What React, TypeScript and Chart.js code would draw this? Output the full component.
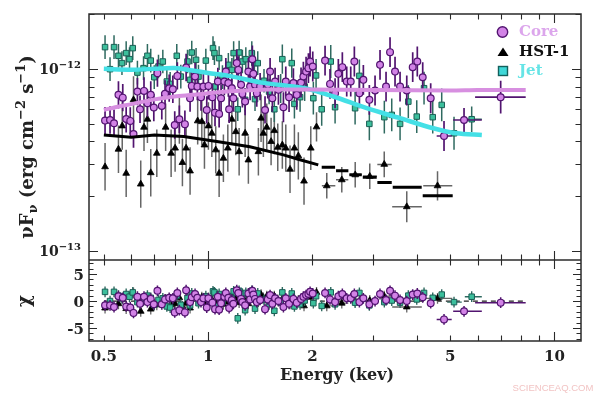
import React, { useEffect, useRef } from "react";
import { Chart, registerables } from "chart.js";

Chart.register(...registerables);

const W = 613;
const H = 397;
const FLUX_UNIT = 1e-13;

// ---------------- Core ----------------
const coreEnergy = [
  0.504, 0.521, 0.535, 0.551, 0.567, 0.58, 0.596, 0.609, 0.625, 0.636,
  0.653, 0.668, 0.683, 0.697, 0.714, 0.735, 0.751, 0.772, 0.791, 0.801,
  0.815, 0.826, 0.857, 0.864, 0.887, 0.897, 0.917, 0.931, 0.954, 0.969,
  0.991, 1.002, 1.029, 1.047, 1.067, 1.076, 1.09, 1.114, 1.125, 1.144,
  1.15, 1.171, 1.183, 1.21, 1.223, 1.245, 1.256, 1.279, 1.307, 1.322,
  1.342, 1.351, 1.366, 1.382, 1.413, 1.46, 1.487, 1.51, 1.533, 1.561,
  1.596, 1.65, 1.676, 1.713, 1.763, 1.803, 1.855, 1.884, 1.918, 1.948,
  1.97, 2.005, 2.176, 2.249, 2.326, 2.377, 2.441, 2.513, 2.581, 2.644,
  2.734, 2.807, 2.921, 3.034, 3.136, 3.264, 3.352, 3.465, 3.583, 3.746,
  3.897, 4.018, 4.165, 4.392, 4.799, 5.482, 6.994,
];
const coreFlux = [
  5.2, 5.24, 5.03, 7.2, 6.95, 5.31, 5.18, 4.39, 7.5, 6.0,
  7.57, 6.48, 7.2, 6.13, 9.47, 6.26, 7.29, 7.83, 7.73, 4.92,
  9.15, 5.29, 4.97, 10.17, 6.9, 8.06, 9.07, 7.99, 6.99, 7.99,
  5.95, 8.06, 6.99, 5.75, 8.52, 5.66, 6.9, 8.52, 9.66, 8.35,
  6.0, 7.83, 6.9, 10.75, 9.87, 8.17, 7.29, 6.61, 9.66, 7.99,
  11.3, 9.39, 8.17, 7.35, 7.99, 5.95, 8.17, 9.66, 6.9, 8.52,
  7.67, 6.16, 8.52, 6.99, 8.35, 7.2, 8.41, 9.07, 9.66, 10.09,
  10.97, 10.3, 11.1, 8.27, 7.35, 9.39, 10.22, 8.52, 8.52, 10.97,
  7.35, 8.7, 6.76, 7.6, 10.52, 7.99, 12.35, 9.66, 7.99, 7.6,
  10.22, 10.97, 9.0, 6.9, 4.28, 5.24, 6.99,
];
const coreErrDex = [
  0.075, 0.075, 0.075, 0.075, 0.075, 0.075, 0.075, 0.075, 0.075, 0.075,
  0.075, 0.075, 0.075, 0.075, 0.075, 0.075, 0.075, 0.075, 0.075, 0.075,
  0.075, 0.075, 0.075, 0.075, 0.075, 0.075, 0.075, 0.075, 0.075, 0.075,
  0.075, 0.075, 0.075, 0.075, 0.075, 0.075, 0.075, 0.075, 0.075, 0.075,
  0.075, 0.075, 0.075, 0.075, 0.075, 0.075, 0.075, 0.075, 0.075, 0.075,
  0.075, 0.075, 0.075, 0.075, 0.075, 0.075, 0.075, 0.075, 0.075, 0.075,
  0.082, 0.082, 0.082, 0.082, 0.082, 0.082, 0.082, 0.082, 0.082, 0.082,
  0.082, 0.082, 0.082, 0.082, 0.082, 0.082, 0.082, 0.082, 0.082, 0.082,
  0.082, 0.082, 0.082, 0.082, 0.082, 0.082, 0.082, 0.082, 0.082, 0.082,
  0.082, 0.082, 0.082, 0.082, 0.082, 0.066, 0.09,
];
const coreChi = [
  -0.8, -0.8, -1.1, 0.9, 0.6, -1.0, -1.2, -2.2, 0.8, -0.5,
  0.8, -0.2, 0.4, -0.6, 1.9, -0.6, 0.3, 0.6, 0.5, -2.1,
  1.5, -1.7, -2.1, 2.0, -0.2, 0.7, 1.3, 0.6, -0.2, 0.5,
  -1.2, 0.5, -0.3, -1.5, 0.8, -1.6, -0.4, 0.8, 1.5, 0.6,
  -1.3, 0.2, -0.5, 2.0, 1.5, 0.4, -0.2, -0.8, 1.4, 0.3,
  1.9, 1.2, 0.4, -0.2, 0.2, -1.5, 0.3, 1.1, -0.5, 0.5,
  0.0, -1.1, 0.5, -0.5, 0.4, -0.3, 0.4, 0.8, 1.1, 1.3,
  1.7, 1.4, 1.5, 0.3, -0.2, 0.9, 1.3, 0.5, 0.5, 1.3,
  -0.2, 0.5, -0.6, 0.0, 1.3, 0.2, 1.9, 1.0, 0.2, 0.0,
  1.2, 1.4, 0.7, -0.4, -3.4, -1.9, -0.3,
];
const coreBins = [
  { e: 4.799, lo: 4.57, hi: 5.05 },
  { e: 5.482, lo: 5.1, hi: 6.17 },
  { e: 6.994, lo: 5.9, hi: 8.26 },
];
const coreModelEnergy = [0.5, 0.55, 0.6, 0.7, 0.8, 0.9, 1.0, 1.2, 1.5, 2.0, 3.0, 5.0, 6.0, 8.26];
const coreModelFlux = [5.95, 6.2, 6.4, 6.8, 7.05, 7.2, 7.35, 7.55, 7.7, 7.7, 7.65, 7.6, 7.65, 7.65];

// ---------------- Jet ----------------
const jetEnergy = [
  0.504, 0.521, 0.535, 0.551, 0.564, 0.58, 0.593, 0.606, 0.625, 0.651,
  0.668, 0.683, 0.699, 0.719, 0.74, 0.76, 0.777, 0.812, 0.834, 0.872,
  0.887, 0.897, 0.923, 0.938, 0.985, 1.033, 1.043, 1.05, 1.076, 1.1,
  1.144, 1.171, 1.185, 1.218, 1.229, 1.256, 1.279, 1.285, 1.337, 1.36,
  1.366, 1.391, 1.45, 1.5, 1.553, 1.62, 1.638, 1.744, 1.775, 1.843,
  1.9, 2.013, 2.05, 2.128, 2.26, 2.326, 2.657, 2.734, 2.921, 3.227,
  3.39, 3.583, 3.785, 4.003, 4.202, 4.452, 4.726, 5.129, 5.768,
];
const jetFlux = [
  13.16, 9.96, 13.16, 11.79, 10.75, 12.2, 11.3, 12.99, 9.54, 10.09,
  11.79, 11.1, 9.0, 10.3, 10.97, 8.52, 8.27, 11.79, 9.07, 10.97,
  8.7, 12.29, 11.21, 9.07, 11.1, 12.99, 12.2, 8.0, 11.45, 9.0,
  10.52, 9.87, 12.2, 6.0, 12.29, 10.97, 6.76, 11.3, 12.2, 10.75,
  6.82, 10.75, 8.6, 7.5, 6.0, 7.8, 11.3, 10.75, 6.42, 6.99,
  8.0, 6.9, 9.2, 6.0, 10.97, 6.16, 6.08, 9.15, 4.99, 5.43,
  5.59, 4.99, 6.61, 5.47, 7.83, 5.43, 6.34, 4.43, 5.29,
];
const jetErrDex = [
  0.065, 0.065, 0.065, 0.065, 0.065, 0.065, 0.065, 0.065, 0.065, 0.065,
  0.065, 0.065, 0.065, 0.065, 0.065, 0.065, 0.065, 0.065, 0.065, 0.065,
  0.065, 0.065, 0.065, 0.065, 0.065, 0.065, 0.065, 0.065, 0.065, 0.065,
  0.065, 0.065, 0.065, 0.065, 0.065, 0.065, 0.065, 0.065, 0.065, 0.065,
  0.065, 0.065, 0.065, 0.07, 0.07, 0.08, 0.08, 0.08, 0.08, 0.08,
  0.08, 0.09, 0.09, 0.09, 0.09, 0.09, 0.09, 0.09, 0.09, 0.09,
  0.09, 0.09, 0.09, 0.09, 0.09, 0.09, 0.09, 0.09, 0.07,
];
const jetChi = [
  1.7, 0.0, 1.7, 1.0, 0.5, 1.3, 0.8, 1.6, -0.2, 0.1,
  1.0, 0.6, -0.7, 0.2, 0.5, -1.0, -1.2, 1.0, -0.7, 0.6,
  -0.8, 1.4, 0.9, -0.4, 0.9, 1.8, 1.6, -1.0, 1.3, -0.2,
  0.9, 0.5, 1.8, -3.2, 1.9, 1.3, -1.7, 1.5, 1.9, 1.3,
  -1.4, 1.4, 0.2, -0.6, -1.8, -0.3, 1.6, 1.4, -1.0, -0.6,
  0.1, -0.4, 0.9, -0.9, 1.6, -0.6, -0.3, 1.5, -0.8, -0.2,
  0.1, -0.3, 1.0, 0.3, 1.5, 0.6, 1.2, -0.2, 0.8,
];
const jetBins = [
  { e: 5.129, lo: 4.9, hi: 5.4 },
  { e: 5.768, lo: 5.51, hi: 6.17 },
];
const jetModelEnergy = [0.5, 0.6, 0.7, 0.8, 0.9, 1.0, 1.15, 1.43, 1.9, 2.3, 2.87, 3.58, 4.47, 5.21, 6.17];
const jetModelFlux = [10.0, 9.9, 10.0, 10.1, 9.8, 9.5, 9.15, 8.4, 7.83, 7.05, 6.08, 5.36, 4.72, 4.43, 4.34];

// ---------------- HST-1 ----------------
const hstEnergy = [
  0.504, 0.551, 0.565, 0.58, 0.609, 0.639, 0.653, 0.668, 0.683, 0.711,
  0.754, 0.782, 0.803, 0.826, 0.843, 0.864, 0.887, 0.933, 0.959, 0.976,
  1.002, 1.025, 1.052, 1.076, 1.107, 1.14, 1.171, 1.202, 1.229, 1.279,
  1.307, 1.397, 1.422, 1.444, 1.477, 1.52, 1.553, 1.589, 1.638, 1.676,
  1.724, 1.775, 1.822, 1.892, 1.979, 2.056, 2.201, 2.432, 2.659, 2.929,
  3.225, 3.746, 4.596,
];
const hstFlux = [
  2.9, 3.62, 4.86, 2.67, 6.76, 2.33, 4.78, 5.29, 2.69, 3.44,
  4.78, 3.44, 3.67, 5.24, 3.06, 3.67, 2.75, 5.18, 5.13, 3.82,
  4.86, 4.43, 3.59, 2.67, 3.23, 3.67, 5.29, 4.52, 3.51, 4.43,
  3.16, 3.51, 5.36, 4.43, 4.78, 3.99, 4.58, 3.71, 3.82, 3.67,
  2.81, 3.67, 3.33, 2.42, 3.67, 4.8, 2.28, 2.46, 2.62, 2.57,
  2.99, 1.75, 2.28,
];
const hstErrDex = [
  0.13, 0.13, 0.13, 0.13, 0.13, 0.13, 0.13, 0.13, 0.13, 0.13,
  0.13, 0.13, 0.13, 0.13, 0.13, 0.13, 0.13, 0.13, 0.13, 0.13,
  0.13, 0.13, 0.13, 0.13, 0.13, 0.13, 0.13, 0.13, 0.13, 0.13,
  0.13, 0.13, 0.13, 0.13, 0.13, 0.13, 0.13, 0.13, 0.13, 0.13,
  0.13, 0.13, 0.13, 0.13, 0.12, 0.08, 0.07, 0.07, 0.07, 0.07,
  0.07, 0.085, 0.08,
];
const hstChi = [
  -1.3, -0.5, 0.4, -1.4, 1.5, -1.9, 0.3, 0.6, -1.5, -0.7,
  0.3, -0.7, -0.5, 0.6, -1.0, -0.4, -1.3, 0.7, 0.7, -0.2,
  0.6, 0.3, -0.3, -1.2, -0.6, -0.2, 1.0, 0.5, -0.3, 0.5,
  -0.5, -0.1, 1.2, 0.6, 0.9, 0.4, 0.9, 0.2, 0.4, 0.3,
  -0.5, 0.4, 0.1, -0.9, 0.7, 1.6, -0.9, -0.4, 0.0, 0.1,
  0.9, -1.1, 0.5,
];
const hstBins = [
  { e: 2.201, lo: 2.13, hi: 2.33 },
  { e: 2.432, lo: 2.34, hi: 2.54 },
  { e: 2.659, lo: 2.56, hi: 2.78 },
  { e: 2.929, lo: 2.8, hi: 3.07 },
  { e: 3.225, lo: 3.08, hi: 3.39 },
  { e: 3.746, lo: 3.4, hi: 4.14 },
  { e: 4.596, lo: 4.18, hi: 5.07 },
];
const hstModelEnergy = [0.5, 0.6, 0.7, 0.85, 1.06, 1.32, 1.65, 1.82, 2.08];
const hstModelFlux = [4.34, 4.21, 4.34, 4.25, 3.99, 3.74, 3.37, 3.19, 2.97];
const hstModelBinLo = [2.128, 2.341, 2.558, 2.796, 3.081, 3.412, 4.165];
const hstModelBinHi = [2.326, 2.541, 2.777, 3.068, 3.39, 4.137, 5.084];
const hstModelBinFlux = [2.88, 2.76, 2.62, 2.54, 2.38, 2.24, 2.01];

// ---------------- axes ----------------
const xMin = 0.453;
const xMax = 11.93;
const yMin = 8.93e-14;
const yMax = 2.0e-12;
const rMin = -7.4;
const rMax = 7.6;
const xMajorTicks = [1, 10];
const xMinorTicks = [0.5, 0.6, 0.7, 0.8, 0.9, 2, 3, 4, 5, 6, 7, 8, 9];
const xTickLabels = [
  { v: 0.5, t: "0.5" },
  { v: 1, t: "1" },
  { v: 2, t: "2" },
  { v: 5, t: "5" },
  { v: 10, t: "10" },
];
const yMajorTicks = [1e-13, 1e-12];
const yMinorTicks = [2e-13, 3e-13, 4e-13, 5e-13, 6e-13, 7e-13, 8e-13, 9e-13, 2e-12];
const rMajorTicks = [-5, 0, 5];
const rMinorTicks = [-7, -6, -4, -3, -2, -1, 1, 2, 3, 4, 6, 7];
const rTickLabels = [
  { v: 5, t: "5" },
  { v: 0, t: "0" },
  { v: -5, t: "-5" },
];
const zeroLineRange = [0.5, 8.26];

// ---------------- colours ----------------
const CORE_FILL = "#d283e6";
const CORE_EDGE = "#521470";
const CORE_LINE = "#d78fe0";
const JET_FILL = "#3cbf9c";
const JET_EDGE = "#1b5e55";
const JET_ERR = "#2f6a60";
const JET_LINE = "#44e0e6";
const HST_ERR = "#666666";

const SERIF = '"DejaVu Serif", "Liberation Serif", serif';
const bold = (s: number) => `bold ${s}px ${SERIF}`;

type Bin = { e: number; lo: number; hi: number };

function fluxPoints(E: number[], F: number[], err: number[], bins: Bin[]) {
  return E.map((e, i) => {
    const y = F[i] * FLUX_UNIT;
    const f = Math.pow(10, err[i]);
    const b = bins.find((q) => q.e === e);
    return { x: e, y, yLo: y / f, yHi: y * f, xLo: b ? b.lo : null, xHi: b ? b.hi : null };
  });
}
function chiPoints(E: number[], chi: number[], bins: Bin[]) {
  return E.map((e, i) => {
    const b = bins.find((q) => q.e === e);
    return { x: e, y: chi[i], yLo: chi[i] - 1, yHi: chi[i] + 1, xLo: b ? b.lo : null, xHi: b ? b.hi : null };
  });
}
function modelPoints(E: number[], F: number[]) {
  return E.map((e, i) => ({ x: e, y: F[i] * FLUX_UNIT }));
}
function hstModelPoints() {
  const pts: any[] = modelPoints(hstModelEnergy, hstModelFlux);
  hstModelBinLo.forEach((lo, i) => {
    pts.push({ x: lo, y: null });
    pts.push({ x: lo, y: hstModelBinFlux[i] * FLUX_UNIT });
    pts.push({ x: hstModelBinHi[i], y: hstModelBinFlux[i] * FLUX_UNIT });
  });
  return pts;
}

const errorBarPlugin = {
  id: "errbars",
  beforeDatasetDraw(chart: any, args: any) {
    const ds: any = chart.data.datasets[args.index];
    if (!ds.errColor) return;
    const xs = chart.scales.x;
    const ys = chart.scales[ds.yAxisID];
    const ctx = chart.ctx as CanvasRenderingContext2D;
    ctx.save();
    ctx.strokeStyle = ds.errColor;
    ctx.lineWidth = ds.errWidth;
    ctx.beginPath();
    for (const p of ds.data) {
      const px = xs.getPixelForValue(p.x);
      const py = ys.getPixelForValue(p.y);
      if (p.yLo != null) {
        const a = Math.min(ys.bottom, ys.getPixelForValue(p.yLo));
        const b = Math.max(ys.top, ys.getPixelForValue(p.yHi));
        ctx.moveTo(px, a);
        ctx.lineTo(px, b);
      }
      if (p.xLo != null) {
        ctx.moveTo(xs.getPixelForValue(p.xLo), py);
        ctx.lineTo(xs.getPixelForValue(p.xHi), py);
      }
    }
    ctx.stroke();
    ctx.restore();
  },
};

type Part = { t: string; size: number; dy: number };
function richWidth(ctx: CanvasRenderingContext2D, parts: Part[]) {
  let w = 0;
  for (const p of parts) {
    ctx.font = bold(p.size);
    w += ctx.measureText(p.t).width;
  }
  return w;
}
function drawRich(ctx: CanvasRenderingContext2D, parts: Part[], x: number, y: number, align: string) {
  const w = richWidth(ctx, parts);
  let cx = align === "left" ? x : align === "right" ? x - w : x - w / 2;
  ctx.textAlign = "left";
  ctx.textBaseline = "alphabetic";
  for (const p of parts) {
    ctx.font = bold(p.size);
    ctx.fillText(p.t, cx, y + p.dy);
    cx += ctx.measureText(p.t).width;
  }
}

const framePlugin = {
  id: "frame",
  afterDraw(chart: any) {
    const ctx = chart.ctx as CanvasRenderingContext2D;
    const xs = chart.scales.x;
    const ys = chart.scales.y;
    const rs = chart.scales.chi;
    const L = chart.chartArea.left;
    const R = chart.chartArea.right;
    const T = ys.top;
    const M = ys.bottom;
    const B = rs.bottom;
    ctx.save();
    ctx.strokeStyle = "#2a2a2a";
    ctx.lineWidth = 1.5;
    ctx.strokeRect(L, T, R - L, B - T);
    ctx.beginPath();
    ctx.moveTo(L, M);
    ctx.lineTo(R, M);
    ctx.stroke();

    ctx.lineWidth = 1.1;
    ctx.beginPath();
    const xt = (v: number, len: number) => {
      const px = Math.round(xs.getPixelForValue(v)) + 0.5;
      ctx.moveTo(px, T); ctx.lineTo(px, T + len);
      ctx.moveTo(px, M); ctx.lineTo(px, M - len);
      ctx.moveTo(px, M); ctx.lineTo(px, M + len);
      ctx.moveTo(px, B); ctx.lineTo(px, B - len);
    };
    xMajorTicks.forEach((v) => xt(v, 9));
    xMinorTicks.forEach((v) => xt(v, 5.5));
    const yt = (sc: any, v: number, len: number) => {
      const py = Math.round(sc.getPixelForValue(v)) + 0.5;
      ctx.moveTo(L, py); ctx.lineTo(L + len, py);
      ctx.moveTo(R, py); ctx.lineTo(R - len, py);
    };
    yMajorTicks.forEach((v) => yt(ys, v, 9));
    yMinorTicks.forEach((v) => yt(ys, v, 5.5));
    rMajorTicks.forEach((v) => yt(rs, v, 8));
    rMinorTicks.forEach((v) => yt(rs, v, 4.5));
    ctx.stroke();

    ctx.fillStyle = "#222";
    ctx.font = bold(15);
    ctx.textAlign = "center";
    ctx.textBaseline = "alphabetic";
    xTickLabels.forEach((l) => ctx.fillText(l.t, xs.getPixelForValue(l.v), 361));
    ctx.textAlign = "right";
    rTickLabels.forEach((l) => ctx.fillText(l.t, L - 5, rs.getPixelForValue(l.v) + 5.5));
    yMajorTicks.forEach((v) => {
      const exp = Math.round(Math.log10(v));
      drawRich(ctx, [
        { t: "10", size: 14, dy: 0 },
        { t: "\u2212" + Math.abs(exp), size: 10, dy: -6 },
      ], L - 8, ys.getPixelForValue(v) + 5, "right");
    });
    ctx.font = bold(16);
    ctx.textAlign = "center";
    ctx.fillText("Energy (kev)", 337, 380);

    ctx.save();
    ctx.translate(33, 147);
    ctx.rotate(-Math.PI / 2);
    drawRich(ctx, [
      { t: "\u03bdF", size: 18, dy: 0 },
      { t: "\u03bd", size: 13, dy: 4 },
      { t: " (erg cm", size: 18, dy: 0 },
      { t: "\u22122", size: 13, dy: -8 },
      { t: " s", size: 18, dy: 0 },
      { t: "\u22121", size: 13, dy: -8 },
      { t: ")", size: 18, dy: 0 },
    ], 0, 0, "center");
    ctx.restore();
    ctx.save();
    ctx.translate(30, 301);
    ctx.rotate(-Math.PI / 2);
    ctx.font = bold(18);
    ctx.textAlign = "center";
    ctx.fillText("\u03c7", 0, 0);
    ctx.restore();

    // legend
    ctx.lineWidth = 1.4;
    ctx.fillStyle = CORE_FILL;
    ctx.strokeStyle = CORE_EDGE;
    ctx.beginPath();
    ctx.arc(502.5, 32, 5.2, 0, Math.PI * 2);
    ctx.fill();
    ctx.stroke();
    ctx.fillStyle = "#000";
    ctx.beginPath();
    ctx.moveTo(503, 47.5);
    ctx.lineTo(508.5, 56);
    ctx.lineTo(497.5, 56);
    ctx.closePath();
    ctx.fill();
    ctx.fillStyle = "#3fd8d8";
    ctx.strokeStyle = "#13605c";
    ctx.fillRect(498.5, 66.5, 9, 9);
    ctx.strokeRect(498.5, 66.5, 9, 9);
    ctx.font = bold(15);
    ctx.textAlign = "left";
    ctx.textBaseline = "middle";
    ctx.fillStyle = "#dca6ec";
    ctx.fillText("Core", 519, 32.5);
    ctx.fillStyle = "#111";
    ctx.fillText("HST-1", 519, 52.5);
    ctx.fillStyle = "#66e4e6";
    ctx.fillText("Jet", 519, 71.5);

    ctx.font = '9.5px "Liberation Sans", sans-serif';
    ctx.fillStyle = "#f2c4c4";
    ctx.textAlign = "center";
    ctx.fillText("SCIENCEAQ.COM", 553, 388);
    ctx.restore();
  },
};

export default function App() {
  const ref = useRef<HTMLCanvasElement>(null);
  useEffect(() => {
    const hidden = (axisSize: "w" | "h") => ({
      display: true,
      ticks: { display: false },
      grid: { display: false },
      border: { display: false },
      afterFit: (s: any) => {
        if (axisSize === "w") s.width = 0;
        else s.height = 0;
      },
    });
    const chart = new Chart(ref.current as HTMLCanvasElement, {
      type: "scatter",
      data: {
        datasets: [
          {
            type: "line", label: "Core model", yAxisID: "y", order: 0,
            data: modelPoints(coreModelEnergy, coreModelFlux),
            borderColor: CORE_LINE, borderWidth: 4, pointRadius: 0, tension: 0.3,
          } as any,
          {
            type: "line", label: "Jet model", yAxisID: "y", order: 0,
            data: modelPoints(jetModelEnergy, jetModelFlux),
            borderColor: JET_LINE, borderWidth: 4.5, pointRadius: 0, tension: 0.3,
          } as any,
          {
            type: "line", label: "HST-1 model", yAxisID: "y", order: 0,
            data: hstModelPoints(),
            borderColor: "#000", borderWidth: 3, pointRadius: 0, spanGaps: false,
          } as any,
          {
            label: "Core", yAxisID: "y", order: 1,
            data: fluxPoints(coreEnergy, coreFlux, coreErrDex, coreBins),
            pointStyle: "circle", pointRadius: 3.4, borderWidth: 1.2,
            backgroundColor: CORE_FILL, borderColor: CORE_EDGE,
            errColor: CORE_EDGE, errWidth: 1.7,
          } as any,
          {
            label: "Jet", yAxisID: "y", order: 2,
            data: fluxPoints(jetEnergy, jetFlux, jetErrDex, jetBins),
            pointStyle: "rect", pointRadius: 3.9, borderWidth: 1,
            backgroundColor: JET_FILL, borderColor: JET_EDGE,
            errColor: JET_ERR, errWidth: 1.5,
          } as any,
          {
            label: "HST-1", yAxisID: "y", order: 3,
            data: fluxPoints(hstEnergy, hstFlux, hstErrDex, hstBins),
            pointStyle: "triangle", pointRadius: 3.9, borderWidth: 0.8,
            backgroundColor: "#000", borderColor: "#000",
            errColor: HST_ERR, errWidth: 1.5,
          } as any,
          {
            type: "line", label: "zero", yAxisID: "chi", order: 5,
            data: zeroLineRange.map((e) => ({ x: e, y: 0 })),
            borderColor: "#222", borderWidth: 1.2, borderDash: [5, 4], pointRadius: 0,
          } as any,
          {
            label: "Core chi", yAxisID: "chi", order: 1,
            data: chiPoints(coreEnergy, coreChi, coreBins),
            pointStyle: "circle", pointRadius: 3.4, borderWidth: 1.2,
            backgroundColor: CORE_FILL, borderColor: CORE_EDGE,
            errColor: CORE_EDGE, errWidth: 1.5,
          } as any,
          {
            label: "Jet chi", yAxisID: "chi", order: 2,
            data: chiPoints(jetEnergy, jetChi, jetBins),
            pointStyle: "rect", pointRadius: 3.9, borderWidth: 1,
            backgroundColor: JET_FILL, borderColor: JET_EDGE,
            errColor: JET_ERR, errWidth: 1.4,
          } as any,
          {
            label: "HST-1 chi", yAxisID: "chi", order: 3,
            data: chiPoints(hstEnergy, hstChi, hstBins),
            pointStyle: "triangle", pointRadius: 3.9, borderWidth: 0.8,
            backgroundColor: "#000", borderColor: "#000",
            errColor: HST_ERR, errWidth: 1.3,
          } as any,
        ],
      },
      options: {
        responsive: false,
        animation: false,
        devicePixelRatio: 1,
        events: [],
        layout: { padding: { left: 89, right: 32, top: 14, bottom: 56 } },
        plugins: { legend: { display: false }, tooltip: { enabled: false } },
        scales: {
          x: { type: "logarithmic", axis: "x", min: xMin, max: xMax, position: "bottom", ...hidden("h") } as any,
          y: {
            type: "logarithmic", axis: "y", min: yMin, max: yMax, position: "left",
            stack: "panels", stackWeight: 246, weight: 1, ...hidden("w"),
          } as any,
          chi: {
            type: "linear", axis: "y", min: rMin, max: rMax, position: "left",
            stack: "panels", stackWeight: 81, weight: 0, ...hidden("w"),
          } as any,
        },
      },
      plugins: [errorBarPlugin, framePlugin],
    } as any);
    return () => chart.destroy();
  }, []);
  return (
    <div style={{ position: "absolute", left: 0, top: 0, width: W, height: H, background: "#fff" }}>
      <canvas ref={ref} width={W} height={H} style={{ width: W, height: H, display: "block" }} />
    </div>
  );
}
